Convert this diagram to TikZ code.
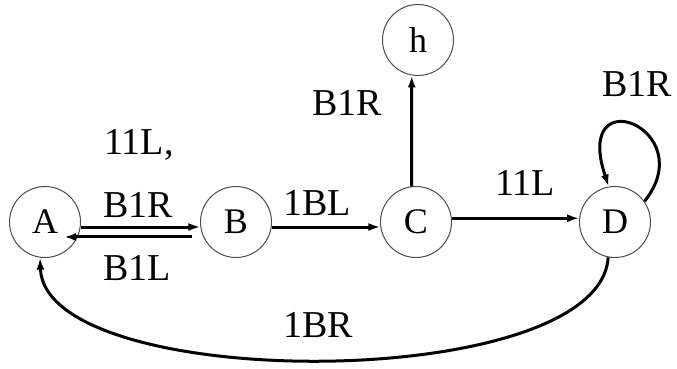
\documentclass[tikz,border=0pt]{standalone}
\usepackage{fontspec}
\setmainfont{Liberation Serif}
\usetikzlibrary{arrows.meta,calc}
\begin{document}
\begin{tikzpicture}[x=1pt,y=1pt,
  state/.style={circle,draw=black!70,line width=1pt,minimum size=71pt,inner sep=0pt,font=\fontsize{36}{36}\selectfont},
  lbl/.style={inner sep=0pt,font=\fontsize{38}{38}\selectfont},
  trans/.style={line width=3pt,-{Latex[length=12pt,width=8pt]}}]
\useasboundingbox (0,0) rectangle (677,369);
% states
\node[state] (A) at (45,147) {A};
\node[state] (B) at (236,147) {B};
\node[state] (C) at (416,147) {C};
\node[state] (D) at (615,147) {D};
\node[state] (h) at (418,329) {h};
% transitions
\draw[trans] (A.-8) -- (B.188);
\draw[trans] ([xshift=-8pt,yshift=-15pt]B.west) -- ([xshift=19pt,yshift=-15pt]A.center);
\draw[trans] (B.-8) -- (C.188);
\draw[trans] (C.6) -- (D.174);
\draw[trans] (C.97) -- (h.260);
\draw[trans] (D.35) .. controls (702,240) and (572,292) .. (D.100);
\draw[trans] (D.259) .. controls (600,-25) and (45,-25) .. (A.262);
% labels
\node[lbl] (l1) at (139,224) {11L,};
\node[lbl] (l2) at (138,164) {B1R};
\node[lbl] (l3) at (137,101) {B1L};
\node[lbl] (l4) at (317,166) {1BL};
\node[lbl] (l5) at (525,186) {11L};
\node[lbl] (l6) at (347,266) {B1R};
\node[lbl] (l7) at (637,285) {B1R};
\node[lbl] (l8) at (318,44) {1BR};
\end{tikzpicture}
\end{document}
